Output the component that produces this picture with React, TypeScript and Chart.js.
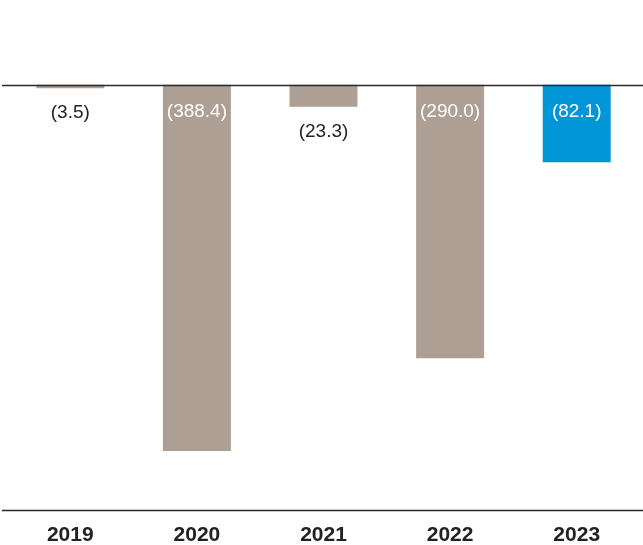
import React, { useEffect, useRef } from "react";
import { Chart, registerables } from "chart.js";

Chart.register(...registerables);

const categories = ["2019", "2020", "2021", "2022", "2023"];
const values = [-3.5, -388.4, -23.3, -290.0, -82.1];
const valueLabels = ["(3.5)", "(388.4)", "(23.3)", "(290.0)", "(82.1)"];
const barColors = ["#ad9f93", "#ad9f93", "#ad9f93", "#ad9f93", "#0096d8"];

const FONT = "'Liberation Sans', Arial, Helvetica, sans-serif";

const linesPlugin = {
  id: "refLines",
  afterDatasetsDraw(chart: any) {
    const { ctx, chartArea, scales } = chart;
    const y0 = scales.y.getPixelForValue(0);
    ctx.save();
    ctx.strokeStyle = "#2a2a2a";
    ctx.lineWidth = 1.3;
    ctx.beginPath();
    ctx.moveTo(2, Math.round(y0) + 0.5);
    ctx.lineTo(chart.width, Math.round(y0) + 0.5);
    ctx.moveTo(2, Math.round(chartArea.bottom) + 0.5);
    ctx.lineTo(chart.width, Math.round(chartArea.bottom) + 0.5);
    ctx.stroke();

    const meta = chart.getDatasetMeta(0);
    ctx.font = `19px ${FONT}`;
    ctx.textAlign = "center";
    ctx.textBaseline = "middle";
    meta.data.forEach((bar: any, i: number) => {
      const h = Math.abs(bar.y - bar.base);
      if (h > 40) {
        ctx.fillStyle = "#ffffff";
        ctx.fillText(valueLabels[i], bar.x, bar.base + 27);
      } else {
        ctx.fillStyle = "#222222";
        ctx.fillText(valueLabels[i], bar.x, bar.y + 25);
      }
    });
    ctx.restore();
  },
};

export default function App() {
  const ref = useRef<HTMLCanvasElement>(null);
  useEffect(() => {
    document.body.style.margin = "0";
    const chart = new Chart(ref.current!, {
      type: "bar",
      data: {
        labels: categories,
        datasets: [
          {
            data: values,
            backgroundColor: barColors,
            borderWidth: 0,
            barPercentage: 1,
            categoryPercentage: 0.537,
          },
        ],
      },
      options: {
        responsive: false,
        animation: false,
        layout: { padding: { left: 7, right: 3, top: 0, bottom: 0 } },
        plugins: { legend: { display: false }, tooltip: { enabled: false } },
        scales: {
          x: {
            grid: { display: false },
            border: { display: false },
            afterFit(scale: any) {
              scale.height = 35;
            },
            ticks: {
              padding: 5,
              color: "#222222",
              font: { family: FONT, size: 21, weight: "bold" },
            },
          },
          y: {
            display: false,
            min: -451,
            max: 90,
          },
        },
      },
      plugins: [linesPlugin],
    });
    return () => chart.destroy();
  }, []);
  return <canvas ref={ref} width={643} height={545} style={{ display: "block" }} />;
}
